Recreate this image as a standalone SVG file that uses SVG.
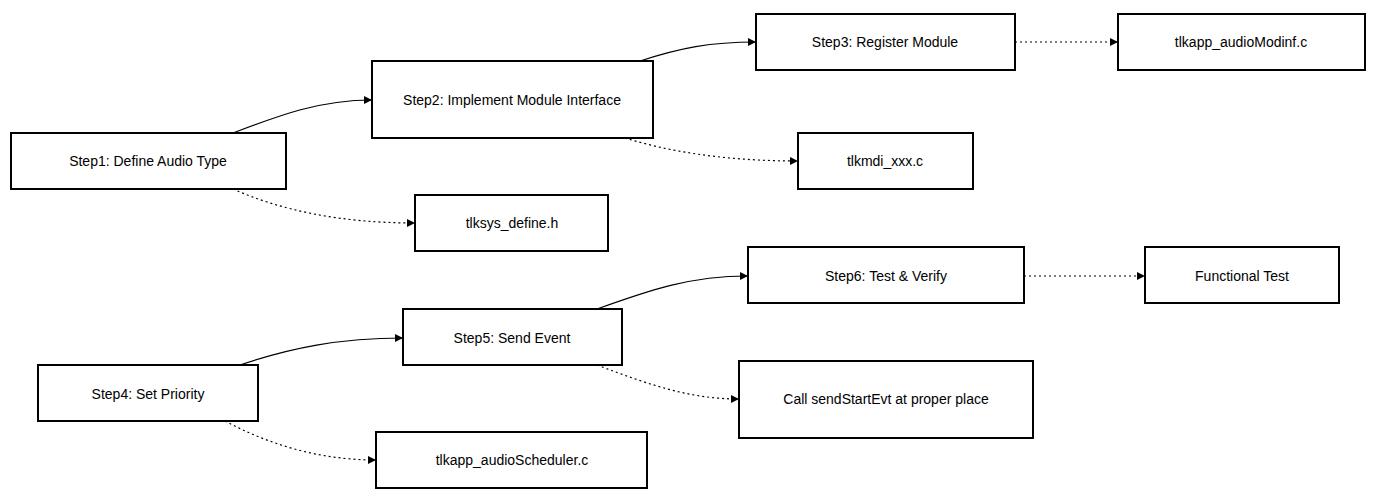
<svg xmlns="http://www.w3.org/2000/svg" width="1384" height="500" viewBox="0 0 1384 500">
<defs>
<marker id="ah" viewBox="0 0 10 10" refX="10" refY="5" markerWidth="8" markerHeight="8" markerUnits="userSpaceOnUse" orient="auto"><path d="M0,0 L10,5 L0,10 z" fill="#000"/></marker>
<style>
.n rect{fill:#fff;stroke:#000;stroke-width:2}
.n text{font-family:"Liberation Sans",Arial,sans-serif;font-size:14px;fill:#000;text-anchor:middle;dominant-baseline:central}
.e path{fill:none;stroke:#000;stroke-width:1.2;marker-end:url(#ah)}
.e .d{stroke-dasharray:2,3}
</style>
</defs>
<rect width="1384" height="500" fill="#fff"/>
<g class="e">
<path d="M233,133 C280,115 320,100 372,100"/>
<path class="d" d="M233,189 C280,210 340,223 415,223"/>
<path d="M640,61 C680,48 710,42 756,42"/>
<path class="d" d="M625,138 C680,155 740,161 798,161"/>
<path class="d" d="M1015,42 L1118,42"/>
<path d="M240,365 C290,348 340,338 403,338"/>
<path class="d" d="M225,421 C270,445 320,460 376,460"/>
<path d="M597,309 C650,290 690,276 748,276"/>
<path class="d" d="M597,365 C650,385 690,399 739,399"/>
<path class="d" d="M1024,276 L1145,276"/>
</g>
<g id="step1" class="n"><rect x="11" y="133" width="275" height="56"/><text x="148" y="161">Step1: Define Audio Type</text></g>
<g id="step2" class="n"><rect x="372" y="61" width="281" height="77"/><text x="512" y="100">Step2: Implement Module Interface</text></g>
<g id="step3" class="n"><rect x="756" y="14" width="259" height="56"/><text x="885" y="42">Step3: Register Module</text></g>
<g id="modinf" class="n"><rect x="1118" y="14" width="247" height="56"/><text x="1241" y="42">tlkapp_audioModinf.c</text></g>
<g id="mdi" class="n"><rect x="798" y="133" width="175" height="56"/><text x="885" y="161">tlkmdi_xxx.c</text></g>
<g id="define" class="n"><rect x="415" y="195" width="193" height="56"/><text x="512" y="223">tlksys_define.h</text></g>
<g id="step6" class="n"><rect x="748" y="247" width="276" height="56"/><text x="886" y="276">Step6: Test &amp; Verify</text></g>
<g id="functest" class="n"><rect x="1145" y="247" width="194" height="56"/><text x="1242" y="276">Functional Test</text></g>
<g id="step5" class="n"><rect x="403" y="309" width="219" height="56"/><text x="512" y="338">Step5: Send Event</text></g>
<g id="call" class="n"><rect x="739" y="361" width="294" height="77"/><text x="886" y="399">Call sendStartEvt at proper place</text></g>
<g id="step4" class="n"><rect x="38" y="365" width="220" height="56"/><text x="148" y="394">Step4: Set Priority</text></g>
<g id="sched" class="n"><rect x="376" y="432" width="271" height="56"/><text x="512" y="460">tlkapp_audioScheduler.c</text></g>
</svg>
